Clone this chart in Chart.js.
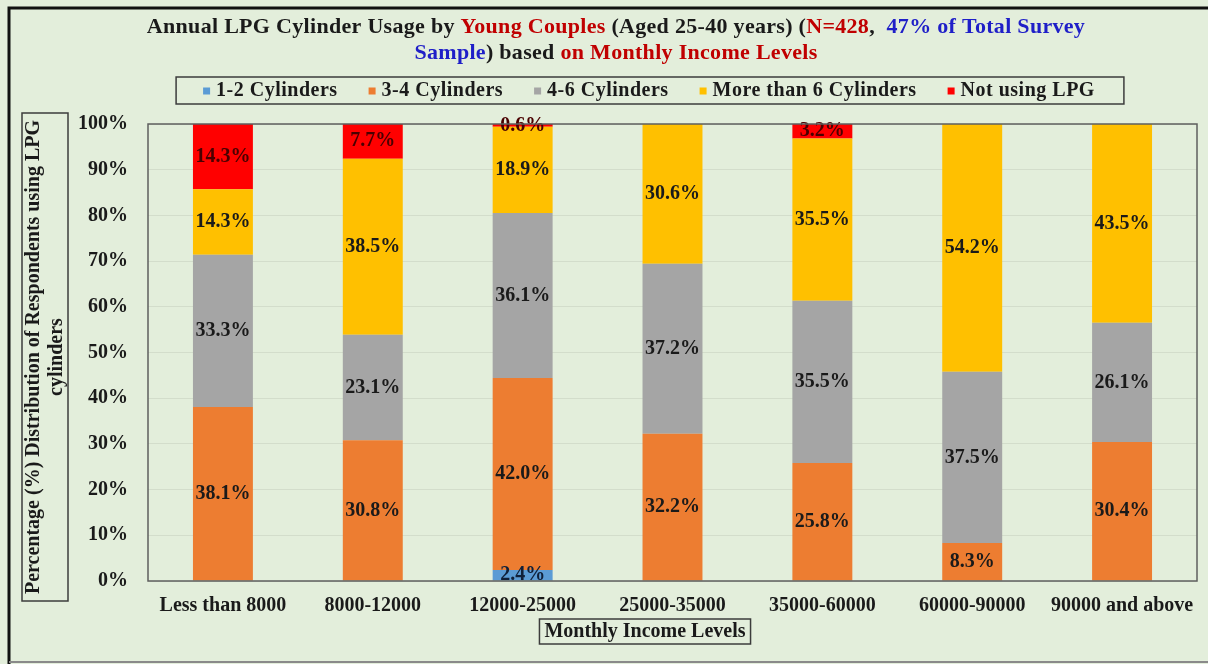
<!DOCTYPE html>
<html>
<head>
<meta charset="utf-8">
<script src="https://cdn.jsdelivr.net/npm/chart.js@4.4.1/dist/chart.umd.min.js"></script>
<style>
  html, body { margin: 0; padding: 0; background: #e3eedb; overflow: hidden; }
  #wrap { width: 1208px; height: 664px; position: relative; }
  canvas { display: block; }
</style>
</head>
<body>
<div id="wrap"><canvas id="c" width="1208" height="664"></canvas></div>
<script>
// Monthly income groups (x axis)
const incomeLevels = ['Less than 8000', '8000-12000', '12000-25000', '25000-35000', '35000-60000', '60000-90000', '90000 and above'];

// Share of respondents (%) per usage group in each income level
const cyl1to2   = [0,    0,    2.4,  0,    0,    0,    0];
const cyl3to4   = [38.1, 30.8, 42.0, 32.2, 25.8, 8.3,  30.4];
const cyl4to6   = [33.3, 23.1, 36.1, 37.2, 35.5, 37.5, 26.1];
const cylOver6  = [14.3, 38.5, 18.9, 30.6, 35.5, 54.2, 43.5];
const notUsing  = [14.3, 7.7,  0.6,  0,    3.2,  0,    0];

const seriesNames = ['1-2 Cylinders', '3-4 Cylinders', '4-6 Cylinders', 'More than 6 Cylinders', 'Not using LPG'];
const seriesColors = ['#5b9bd5', '#ed7d31', '#a5a5a5', '#ffc000', '#ff0000'];
const labelColors = ['#10203a', '#1a1a1a', '#1a1a1a', '#1a1a1a', '#4a0000'];

const yTicks = [0, 10, 20, 30, 40, 50, 60, 70, 80, 90, 100];

const SERIF = '"Liberation Serif", "Times New Roman", serif';

const titleLines = [
  [['Annual LPG Cylinder Usage by ', '#1a1a1a'], ['Young Couples', '#c00000'], [' (Aged 25-40 years) (', '#1a1a1a'], ['N=428', '#c00000'], [',  ', '#1a1a1a'], ['47% of Total Survey', '#1f1fc8']],
  [['Sample', '#1f1fc8'], [') based ', '#1a1a1a'], ['on Monthly Income Levels', '#c00000']]
];
const yTitleLines = ['Percentage (%) Distribution of Respondents using LPG', 'cylinders'];
const xTitle = 'Monthly Income Levels';

const seriesValues = [cyl1to2, cyl3to4, cyl4to6, cylOver6, notUsing];

// Page background, outer frame, title, legend, axis-title boxes and plot border
const decorations = {
  id: 'decorations',
  beforeDraw(chart) {
    const ctx = chart.ctx;
    ctx.save();
    ctx.fillStyle = '#e3eedb';
    ctx.fillRect(0, 0, chart.width, chart.height);
    ctx.restore();
  },
  afterDraw(chart) {
    const ctx = chart.ctx;
    const area = chart.chartArea;
    ctx.save();

    // outer frame (left and top edges, thin bottom edge)
    ctx.strokeStyle = '#111';
    ctx.lineWidth = 3;
    ctx.beginPath();
    ctx.moveTo(9, 664); ctx.lineTo(9, 8); ctx.lineTo(chart.width, 8);
    ctx.stroke();
    ctx.strokeStyle = '#8a8a8a';
    ctx.lineWidth = 2;
    ctx.beginPath();
    ctx.moveTo(9, 662); ctx.lineTo(chart.width, 662);
    ctx.stroke();

    // plot area border
    ctx.strokeStyle = '#5f5f5f';
    ctx.lineWidth = 1.5;
    ctx.strokeRect(area.left, area.top, area.right - area.left, area.bottom - area.top);

    // multi-coloured title
    ctx.font = 'bold 22px ' + SERIF;
    ctx.letterSpacing = '0.3px';
    ctx.textBaseline = 'middle';
    ctx.textAlign = 'left';
    const titleCenter = 616;
    const titleY = [27, 53];
    titleLines.forEach((parts, i) => {
      const total = parts.reduce((s, p) => s + ctx.measureText(p[0]).width, 0);
      let x = titleCenter - total / 2;
      parts.forEach(([txt, col]) => {
        ctx.fillStyle = col;
        ctx.fillText(txt, x, titleY[i]);
        x += ctx.measureText(txt).width;
      });
    });

    // legend built from the datasets
    ctx.font = 'bold 20px ' + SERIF;
    ctx.letterSpacing = '0.5px';
    const box = 7, gapBox = 6, gapItem = 31;
    const items = chart.data.datasets.map(ds => ({ text: ds.label, color: ds.backgroundColor, w: ctx.measureText(ds.label).width }));
    const legendW = items.reduce((s, it) => s + box + gapBox + it.w, 0) + gapItem * (items.length - 1);
    const legendCx = 649, legendCy = 91;
    let lx = legendCx - legendW / 2;
    ctx.strokeStyle = '#3c3c3c';
    ctx.lineWidth = 1.5;
    ctx.strokeRect(lx - 27, 77, legendW + 56, 27);
    items.forEach(it => {
      ctx.fillStyle = it.color;
      ctx.fillRect(lx, legendCy - box / 2, box, box);
      ctx.fillStyle = '#1a1a1a';
      ctx.fillText(it.text, lx + box + gapBox, legendCy);
      lx += box + gapBox + it.w + gapItem;
    });
    ctx.letterSpacing = '0px';

    // y axis title (rotated, two lines) in a box
    ctx.font = 'bold 20px ' + SERIF;
    ctx.textAlign = 'center';
    ctx.fillStyle = '#1a1a1a';
    const yCy = 357;
    [34, 57].forEach((x, i) => {
      ctx.save();
      ctx.translate(x, yCy);
      ctx.rotate(-Math.PI / 2);
      ctx.fillText(yTitleLines[i], 0, 0);
      ctx.restore();
    });
    ctx.strokeStyle = '#3c3c3c';
    ctx.strokeRect(22, 113, 46, 488);

    // x axis title in a box
    const xw = ctx.measureText(xTitle).width;
    ctx.fillText(xTitle, 645, 632);
    ctx.strokeRect(645 - xw / 2 - 5, 619, xw + 10, 25);

    ctx.restore();
  }
};

// Value labels centred in each stacked segment
const segmentLabels = {
  id: 'segmentLabels',
  afterDatasetsDraw(chart) {
    const ctx = chart.ctx;
    ctx.save();
    ctx.font = 'bold 20px ' + SERIF;
    ctx.textAlign = 'center';
    ctx.textBaseline = 'middle';
    chart.data.datasets.forEach((ds, di) => {
      const meta = chart.getDatasetMeta(di);
      meta.data.forEach((bar, i) => {
        const v = ds.data[i];
        if (!v) return;
        ctx.fillStyle = labelColors[di];
        ctx.fillText(v.toFixed(1) + '%', bar.x, (bar.y + bar.base) / 2);
      });
    });
    ctx.restore();
  }
};

new Chart(document.getElementById('c'), {
  type: 'bar',
  data: {
    labels: incomeLevels,
    datasets: seriesNames.map((name, i) => ({
      label: name,
      data: seriesValues[i],
      backgroundColor: seriesColors[i],
      borderWidth: 0,
      barPercentage: 0.4,
      categoryPercentage: 1.0
    }))
  },
  options: {
    responsive: false,
    animation: false,
    layout: { padding: { top: 124, right: 11, bottom: 43, left: 0 } },
    plugins: {
      legend: { display: false },
      title: { display: false },
      tooltip: { enabled: false }
    },
    scales: {
      x: {
        stacked: true,
        grid: { display: false, drawTicks: false },
        border: { display: false },
        ticks: { color: '#1a1a1a', font: { family: SERIF, size: 20, weight: 'bold' }, padding: 13, maxRotation: 0 },
        afterFit(s) { s.height = 40; }
      },
      y: {
        stacked: true,
        min: 0,
        max: 100,
        afterBuildTicks(s) { s.ticks = yTicks.map(v => ({ value: v })); },
        grid: { color: 'rgba(0,0,0,0.07)', drawTicks: false },
        border: { display: false },
        ticks: { color: '#1a1a1a', font: { family: SERIF, size: 20, weight: 'bold' }, padding: 20, callback: v => v + '%' },
        afterFit(s) { s.width = 148; }
      }
    }
  },
  plugins: [decorations, segmentLabels]
});
</script>
</body>
</html>
